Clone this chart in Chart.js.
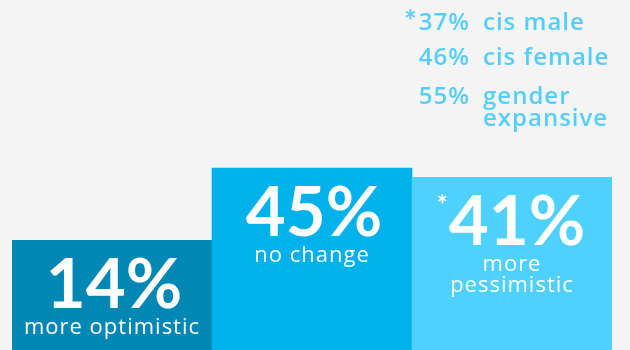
<!DOCTYPE html>
<html>
<head>
<meta charset="utf-8">
<script src="https://cdn.jsdelivr.net/npm/chart.js@4.4.1/dist/chart.umd.min.js"></script>
<style>
  body { margin: 0; background: #f4f4f4; }
  #wrap { width: 630px; height: 350px; overflow: hidden; }
</style>
</head>
<body>
<div id="wrap"><canvas id="outlookChart" width="630" height="350"></canvas></div>
<script>
// Outlook shift, share of respondents
const categories = ['more optimistic', 'no change', ['more', 'pessimistic']];
const shares = [14, 45, 41];
const starred = [false, false, true];
const barColors = ['#0087b4', '#00b1ec', '#4ed1ff'];

// Breakdown of the "more pessimistic" group
const groupNames = [['cis male'], ['cis female'], ['gender', 'expansive']];
const groupShares = [37, 46, 55];
const groupStarred = [true, false, false];

// bars run off the bottom edge, so the axis starts below zero
const yMin = -33;
const yMax = 117;

const NUM_FONT = 'Lato, "Open Sans", sans-serif';
const TEXT_FONT = '"Open Sans", Lato, sans-serif';

// white value + caption inside each bar
const barLabels = {
    id: 'barLabels',
    afterDatasetsDraw(chart) {
        const ctx = chart.ctx;
        const meta = chart.getDatasetMeta(0);
        ctx.save();
        ctx.fillStyle = '#ffffff';
        ctx.textAlign = 'center';
        ctx.textBaseline = 'alphabetic';
        meta.data.forEach((bar, i) => {
            const numY = bar.y + 68;
            const numText = shares[i] + '%';
            const shift = starred[i] ? 5 : 2;
            ctx.letterSpacing = '0px';
            ctx.font = 'bold 69px ' + NUM_FONT;
            ctx.fillText(numText, bar.x + shift, numY);
            if (starred[i]) {
                const w = ctx.measureText(numText).width;
                ctx.font = 'bold 26px ' + NUM_FONT;
                ctx.textAlign = 'right';
                ctx.fillText('*', bar.x + shift - w / 2 - 1, numY - 31);
                ctx.textAlign = 'center';
            }
            ctx.font = '22px ' + TEXT_FONT;
            ctx.letterSpacing = '1px';
            const lines = [].concat(categories[i]);
            lines.forEach((line, j) => {
                ctx.fillText(line, bar.x, numY + 26 + j * 21);
            });
        });
        ctx.restore();
    }
};

// gender breakdown in the top-right corner
const groupNotes = {
    id: 'groupNotes',
    afterDraw(chart) {
        const ctx = chart.ctx;
        const numRight = 470;
        const textLeft = 483;
        const rowY = [30, 65, 104];
        ctx.save();
        ctx.fillStyle = '#55cffa';
        ctx.textBaseline = 'alphabetic';
        ctx.letterSpacing = '1px';
        groupShares.forEach((v, i) => {
            ctx.font = '600 24px ' + TEXT_FONT;
            ctx.textAlign = 'right';
            const numText = v + '%';
            ctx.fillText(numText, numRight, rowY[i]);
            if (groupStarred[i]) {
                const w = ctx.measureText(numText).width;
                ctx.font = 'bold 30px ' + NUM_FONT;
                ctx.fillText('*', numRight - w - 1, rowY[i] + 2);
                ctx.font = '600 24px ' + TEXT_FONT;
            }
            ctx.textAlign = 'left';
            groupNames[i].forEach((line, j) => {
                ctx.fillText(line, textLeft, rowY[i] + j * 22);
            });
        });
        ctx.restore();
    }
};

const ctx = document.getElementById('outlookChart').getContext('2d');
const outlookChart = new Chart(ctx, {
    type: 'bar',
    data: {
        labels: categories,
        datasets: [{
            data: shares,
            base: yMin,
            backgroundColor: barColors,
            borderWidth: 0,
            barPercentage: 1,
            categoryPercentage: 1
        }]
    },
    options: {
        responsive: false,
        animation: false,
        layout: { padding: { left: 12, right: 18, top: 0, bottom: 0 } },
        plugins: {
            legend: { display: false },
            tooltip: { enabled: false }
        },
        scales: {
            x: { display: false },
            y: { display: false, min: yMin, max: yMax }
        }
    },
    plugins: [barLabels, groupNotes]
});
</script>
</body>
</html>
